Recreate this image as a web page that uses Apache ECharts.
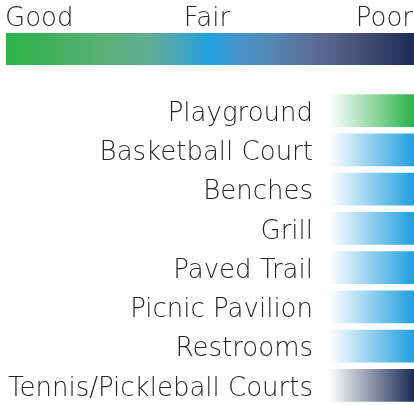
<!DOCTYPE html>
<html>
<head>
<meta charset="utf-8">
<script src="https://cdn.jsdelivr.net/npm/echarts@6/dist/echarts.min.js"></script>
<style>
  html, body { margin: 0; padding: 0; background: #ffffff; }
  #chart { width: 414px; height: 405px; }
</style>
</head>
<body>
<div id="chart"></div>
<script>
// Amenities and their condition rating
const amenities = ['Playground', 'Basketball Court', 'Benches', 'Grill', 'Paved Trail', 'Picnic Pavilion', 'Restrooms', 'Tennis/Pickleball Courts'];
const ratings = ['Good', 'Fair', 'Fair', 'Fair', 'Fair', 'Fair', 'Fair', 'Poor'];
const barValues = [1, 1, 1, 1, 1, 1, 1, 1];
const scaleLabels = ['Good', 'Fair', 'Poor'];
const ratingColors = { Good: '#2bb34b', Fair: '#1fa0de', Poor: '#1b2b57' };

const FONT = '"DejaVu Sans", sans-serif';
const TEXT = '#262626';

const chart = echarts.init(document.getElementById('chart'), null, { renderer: 'canvas' });

function fade(color) {
  return new echarts.graphic.LinearGradient(0, 0, 1, 0, [
    { offset: 0, color: '#ffffff' },
    { offset: 1, color: color }
  ]);
}

// Good -> Fair -> Poor scale
const scaleFill = new echarts.graphic.LinearGradient(0, 0, 1, 0, [
  { offset: 0, color: ratingColors.Good },
  { offset: 0.13, color: '#47b060' },
  { offset: 0.25, color: '#5eb078' },
  { offset: 0.35, color: '#62ac95' },
  { offset: 0.43, color: '#45a6bc' },
  { offset: 0.5, color: ratingColors.Fair },
  { offset: 0.57, color: '#4894c8' },
  { offset: 0.66, color: '#5485b0' },
  { offset: 0.77, color: '#5a6890' },
  { offset: 0.87, color: '#474f75' },
  { offset: 1, color: ratingColors.Poor }
]);

chart.setOption({
  animation: false,
  grid: { left: 329, right: 0, top: 91, height: 315 },
  xAxis: { type: 'value', min: 0, max: 1, show: false },
  yAxis: {
    type: 'category',
    data: amenities,
    inverse: true,
    axisLine: { show: false },
    axisTick: { show: false },
    axisLabel: {
      margin: 16,
      formatter: v => '{t|' + v + '}',
      rich: { t: { fontFamily: FONT, fontWeight: 200, fontSize: 26, color: TEXT, padding: [7, 0, 0, 0] } }
    }
  },
  series: [{
    type: 'bar',
    data: barValues.map((v, i) => ({ value: v, itemStyle: { color: fade(ratingColors[ratings[i]]) } })),
    barCategoryGap: '16%'
  }],
  graphic: [
    { type: 'rect', shape: { x: 6, y: 33, width: 408, height: 32 }, style: { fill: scaleFill } },
    { type: 'text', left: 5, top: 6, style: { text: scaleLabels[0], font: '200 26px ' + FONT, fill: TEXT } },
    { type: 'text', left: 'center', top: 6, style: { text: scaleLabels[1], font: '200 26px ' + FONT, fill: TEXT } },
    { type: 'text', right: 1, top: 6, style: { text: scaleLabels[2], font: '200 26px ' + FONT, fill: TEXT } }
  ]
});
</script>
</body>
</html>
